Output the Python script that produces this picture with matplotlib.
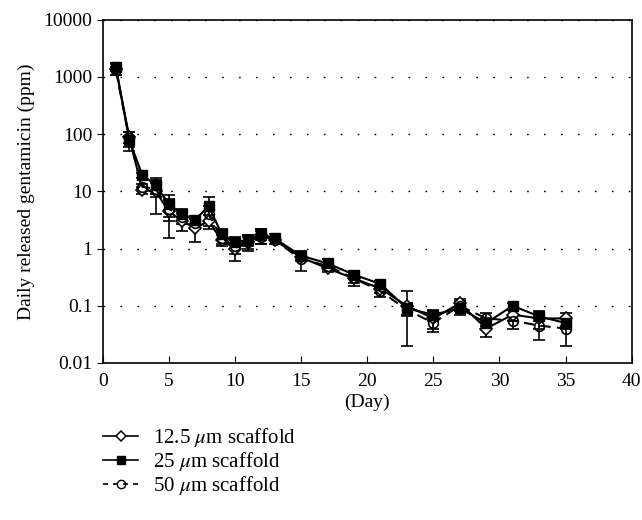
import numpy as np
from matplotlib import pyplot as plt
from matplotlib.lines import Line2D

plt.rcParams['font.family'] = ['Liberation Serif', 'DejaVu Serif']
plt.rcParams['mathtext.fontset'] = 'stix'

days = [1, 2, 3, 4, 5, 6, 7, 8, 9, 10, 11, 12, 13, 15, 17, 19, 21, 23, 25, 27, 29, 31, 33, 35]

s125 = [1400, 90, 10.5, 10, 4.5, 3.0, 2.3, 3.0, 1.4, 1.0, 1.3, 1.7, 1.4, 0.7, 0.45, 0.3, 0.2,
        0.1, 0.06, 0.11, 0.04, 0.07, 0.06, 0.06]
e125 = [300, 20, 1.5, 6, 3, 1.0, 1.0, 0.8, 0.3, 0.4, 0.3, 0.5, 0.2, 0.1, 0.06, 0.05, 0.03,
        0.08, 0.02, 0.02, 0.012, 0.015, 0.02, 0.015]

s25 = [1500, 80, 19, 13, 6, 4.0, 3.2, 5.5, 1.8, 1.3, 1.4, 1.8, 1.5, 0.75, 0.55, 0.35, 0.24,
       0.09, 0.07, 0.09, 0.05, 0.1, 0.065, 0.05]
e25 = [250, 30, 2, 4, 2.5, 1.0, 0.5, 2.5, 0.4, 0.3, 0.3, 0.4, 0.3, 0.12, 0.1, 0.06, 0.03,
       0.02, 0.015, 0.02, 0.01, 0.012, 0.01, 0.01]

s50 = [1300, 85, 12, 11, 5, 3.5, 2.8, 4.0, 1.5, 1.1, 1.3, 1.6, 1.4, 0.65, 0.5, 0.3, 0.18,
       0.085, 0.05, 0.1, 0.06, 0.055, 0.045, 0.04]
e50 = [200, 25, 1.5, 3, 2, 0.8, 0.6, 1.5, 0.3, 0.3, 0.4, 0.4, 0.2, 0.25, 0.08, 0.08, 0.04,
       0.02, 0.015, 0.02, 0.015, 0.015, 0.02, 0.02]

labels = [r'12.5 $\mu$m scaffold', r'25 $\mu$m scaffold', r'50 $\mu$m scaffold']

fig = plt.figure(figsize=(6.42, 5.2), dpi=100)
ax = fig.add_axes([0.16, 0.302, 0.824, 0.66])

eb = dict(color='black', ecolor='black', elinewidth=1.2, capsize=4, capthick=1.2, lw=1.5)
ax.errorbar(days, s125, yerr=e125, fmt='-D', mfc='white', mec='black', mew=1.2,
            markersize=6.5, **eb)
ax.errorbar(days, s25, yerr=e25, fmt='-s', mfc='black', mec='black',
            markersize=7, **eb)
ax.errorbar(days, s50, yerr=e50, fmt='--o', mfc='none', mec='black', mew=1.2,
            markersize=7, dashes=(5, 3), **eb)

ax.set_yscale('log')
ax.set_ylim(0.01, 10000)
ax.set_xlim(0, 40)
ax.set_xticks(range(0, 41, 5))
ax.set_yticks([0.01, 0.1, 1, 10, 100, 1000, 10000])
ax.set_yticklabels(['0.01', '0.1', '1', '10', '100', '1000', '10000'])
ax.minorticks_off()
ax.tick_params(axis='x', direction='in', length=5, labelsize=14, pad=7)
ax.tick_params(axis='y', direction='out', length=4, labelsize=14)
ax.yaxis.grid(True, which='major', color='black', linestyle=(0, (1.2, 11)), lw=1)
for sp in ax.spines.values():
    sp.set_linewidth(1.2)

ax.set_xlabel('(Day)', fontsize=14, labelpad=3)
ax.set_ylabel('Daily released gentamicin (ppm)', fontsize=14, labelpad=6)

handles = [
    Line2D([], [], color='black', lw=1.2, marker='D', markersize=5, mfc='white', mew=1.1),
    Line2D([], [], color='black', lw=1.2, marker='s', markersize=5.5, mfc='black'),
    Line2D([], [], color='black', lw=1.2, ls=(0, (3, 3)), marker='o', markersize=6,
           mfc='none', mew=1.0),
]
ax.legend(handles, labels, loc='upper left', bbox_to_anchor=(-0.035, -0.13), frameon=False,
          fontsize=15, handlelength=1.7, labelspacing=0.05, handletextpad=0.7)

fig.savefig('out.png', dpi=100)
